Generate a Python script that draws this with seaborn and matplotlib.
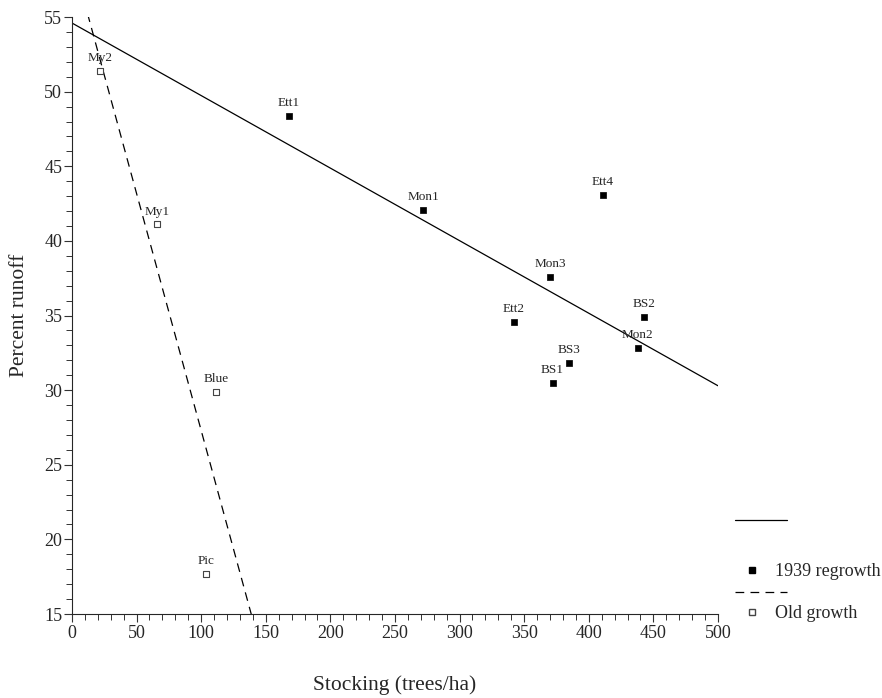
import numpy as np
import pandas as pd
import matplotlib
matplotlib.use('Agg')
import matplotlib.pyplot as plt
from matplotlib.lines import Line2D
from matplotlib.ticker import MultipleLocator
import seaborn as sns

# regrowth stands (1939)
regrowth_sites = ['Ett1', 'Mon1', 'Ett4', 'Mon3', 'Ett2', 'BS2', 'Mon2', 'BS3', 'BS1']
regrowth_stocking = [168, 272, 411, 370, 342, 443, 438, 385, 372]
regrowth_runoff = [48.4, 42.1, 43.1, 37.6, 34.6, 34.9, 32.8, 31.8, 30.5]

# old growth stands
old_sites = ['My2', 'My1', 'Blue', 'Pic']
old_stocking = [21.7, 65.8, 111.5, 103.7]
old_runoff = [51.4, 41.1, 29.9, 17.7]

regrowth = pd.DataFrame({'site': regrowth_sites, 'stocking': regrowth_stocking, 'runoff': regrowth_runoff})
old = pd.DataFrame({'site': old_sites, 'stocking': old_stocking, 'runoff': old_runoff})

sns.set_theme(style='ticks')
plt.rcParams['font.family'] = ['Liberation Serif', 'DejaVu Serif']

fig = plt.figure(figsize=(8.82, 6.98), dpi=100)
ax = fig.add_axes([0.0816, 0.1203, 0.7324, 0.8553])
ax.set_xlim(0, 500)
ax.set_ylim(15, 55)

# fitted lines over full x range
sns.regplot(data=regrowth, x='stocking', y='runoff', ax=ax, scatter=False, ci=None,
            truncate=False, line_kws={'color': 'black', 'lw': 0.9})
sns.regplot(data=old, x='stocking', y='runoff', ax=ax, scatter=False, ci=None,
            truncate=False, line_kws={'color': 'black', 'lw': 0.9, 'ls': (0, (7, 5))})

sns.scatterplot(data=regrowth, x='stocking', y='runoff', ax=ax, marker='s', s=22,
                color='black', edgecolor='black', linewidth=0.5, zorder=3)
sns.scatterplot(data=old, x='stocking', y='runoff', ax=ax, marker='s', s=22,
                color='white', edgecolor='#444444', linewidth=0.8, zorder=3)

for df in (regrowth, old):
    for _, r in df.iterrows():
        ax.annotate(r['site'], (r['stocking'], r['runoff']), xytext=(0, 5),
                    textcoords='offset points', ha='center', va='bottom', fontsize=9.5)

ax.set_xlim(0, 500)
ax.set_ylim(15, 55)
ax.xaxis.set_major_locator(MultipleLocator(50))
ax.xaxis.set_minor_locator(MultipleLocator(10))
ax.yaxis.set_major_locator(MultipleLocator(5))
ax.yaxis.set_minor_locator(MultipleLocator(1))
ax.tick_params(which='major', length=6, width=0.8, labelsize=13, color='#333333')
ax.tick_params(axis='y', which='major', pad=1)
ax.tick_params(axis='x', which='major', pad=2)
ax.tick_params(which='minor', length=4, width=0.7, color='#333333')
sns.despine(ax=ax)
for s in ('left', 'bottom'):
    ax.spines[s].set_linewidth(0.8)
ax.set_xlabel('Stocking (trees/ha)', fontsize=15.5, labelpad=24)
ax.set_ylabel('Percent runoff', fontsize=15.5, labelpad=11)

# legend drawn in figure pixels
W, H = 882, 698
def fx(px):
    return px / W
def fy(py):
    return 1 - py / H

fig.add_artist(Line2D([fx(735), fx(787)], [fy(520), fy(520)], color='black', lw=0.9,
                      transform=fig.transFigure))
fig.add_artist(Line2D([fx(752)], [fy(570)], marker='s', ms=4.5, color='black',
                      transform=fig.transFigure, ls='none'))
fig.text(fx(775), fy(572), '1939 regrowth', fontsize=13, va='center', ha='left')
fig.add_artist(Line2D([fx(735), fx(787)], [fy(592), fy(592)], color='black', lw=0.9,
                      ls=(0, (7, 5)), transform=fig.transFigure))
fig.add_artist(Line2D([fx(752)], [fy(612)], marker='s', ms=4.5, markerfacecolor='white',
                      markeredgecolor='#444444', transform=fig.transFigure, ls='none'))
fig.text(fx(775), fy(613), 'Old growth', fontsize=13, va='center', ha='left')

fig.savefig('out.png', dpi=100)
